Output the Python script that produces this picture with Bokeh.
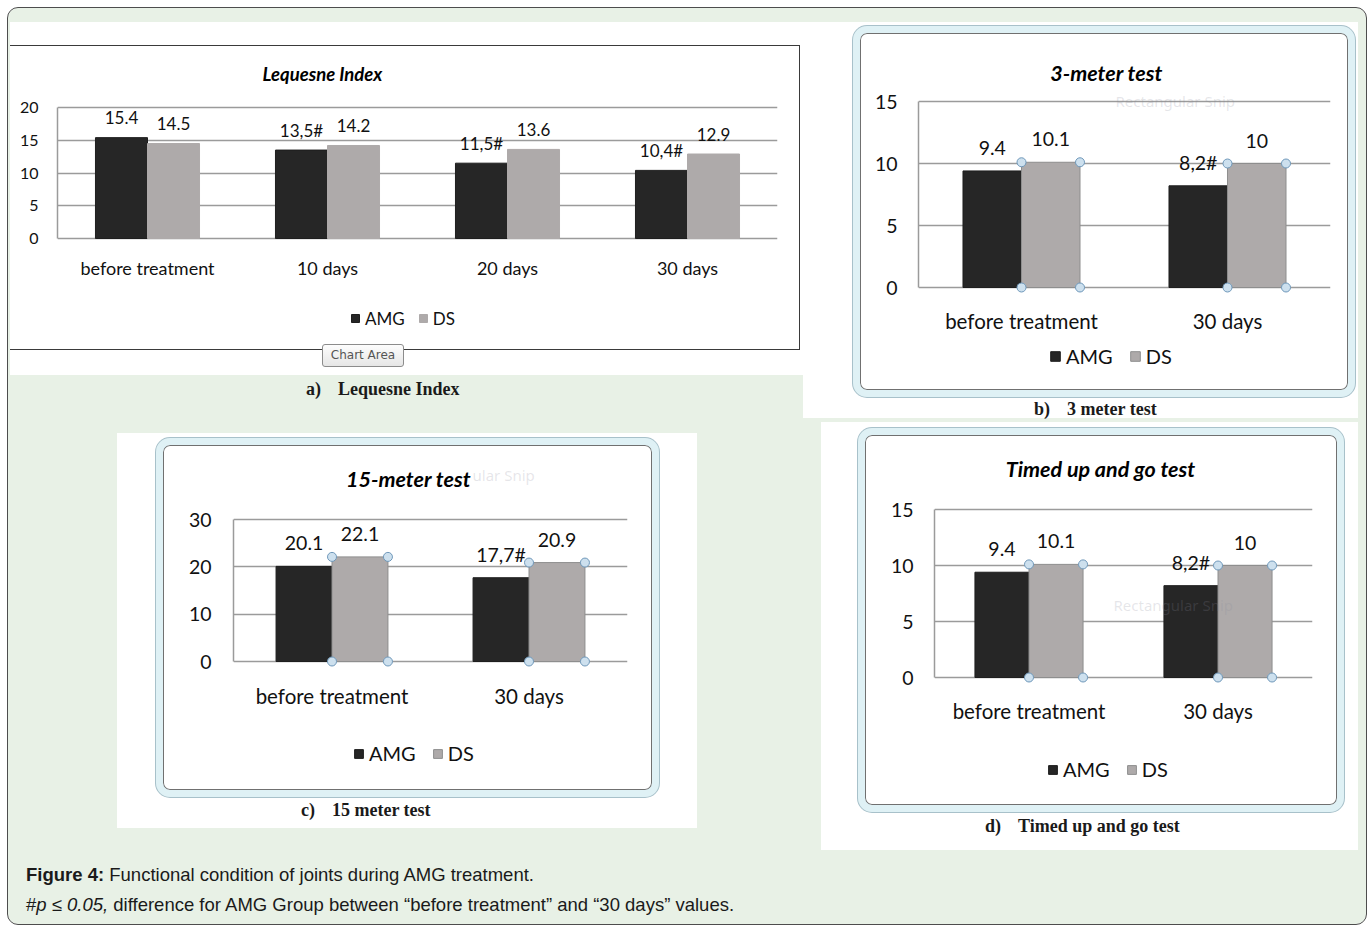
from bokeh.plotting import figure
from bokeh.models import (FactorRange, Range1d, FixedTicker, Label, Legend, LegendItem,
                          ColumnDataSource, Div)
from bokeh.layouts import column, row
from bokeh.transform import dodge
from bokeh.core.properties import value
from bokeh.embed import file_html
from bokeh.resources import INLINE

# ---------------- data ----------------
lq_categories = ["before treatment", "10 days", "20 days", "30 days"]
lq_amg = [15.4, 13.5, 11.5, 10.4]
lq_ds = [14.5, 14.2, 13.6, 12.9]
lq_amg_labels = ["15.4", "13,5#", "11,5#", "10,4#"]
lq_ds_labels = ["14.5", "14.2", "13.6", "12.9"]
lq_yticks = [0, 5, 10, 15, 20]

m3_categories = ["before treatment", "30 days"]
m3_amg = [9.4, 8.2]
m3_ds = [10.1, 10.0]
m3_amg_labels = ["9.4", "8,2#"]
m3_ds_labels = ["10.1", "10"]
m3_yticks = [0, 5, 10, 15]

m15_categories = ["before treatment", "30 days"]
m15_amg = [20.1, 17.7]
m15_ds = [22.1, 20.9]
m15_amg_labels = ["20.1", "17,7#"]
m15_ds_labels = ["22.1", "20.9"]
m15_yticks = [0, 10, 20, 30]

tug_categories = ["before treatment", "30 days"]
tug_amg = [9.4, 8.2]
tug_ds = [10.1, 10.0]
tug_amg_labels = ["9.4", "8,2#"]
tug_ds_labels = ["10.1", "10"]
tug_yticks = [0, 5, 10, 15]

series_names = ["AMG", "DS"]

# ---------------- style ----------------
GREEN = "#e8f1e6"
AMG_COLOR = "#262626"
DS_COLOR = "#aeaaaa"
GRID = "#9b9b9b"
FONT = "Lato"

FRAME_CSS = {
    "outline": "7px solid #dff1f5",
    "box-shadow": "0 0 0 8px #a8c1ca, inset 0 0 0 1px #707070",
    "border-radius": "7px",
    "background-color": "white",
}
AREA_CSS = {
    "background-color": "white",
    "box-shadow": "inset -1px 0 0 0 #3a3a3a, inset 0 1px 0 0 #3a3a3a, inset 0 -1px 0 0 #3a3a3a",
}


def make_chart(cats, amg, ds, amg_lbl, ds_lbl, yticks, g):
    """Plot frame spans the full height of the chart box so every text stays inside it."""
    ox, oy, W, H = g["ox"], g["oy"], g["W"], g["H"]
    L, R, T, Z = g["left"], g["right"], g["top"], g["zero"]
    ymax = yticks[-1]
    ppu = (Z - T) / ymax          # pixels per data unit
    fb = oy + H                   # frame bottom (page px)
    p = figure(width=W, height=H, x_range=FactorRange(factors=cats),
               y_range=Range1d(-(fb - Z) / ppu, ymax + (T - oy) / ppu),
               output_backend="svg", toolbar_location=None,
               min_border_left=L - ox, min_border_right=ox + W - R,
               min_border_top=0, min_border_bottom=0,
               styles=g["styles"])
    p.outline_line_color = None
    p.background_fill_alpha = 0
    p.border_fill_alpha = 0

    src = ColumnDataSource(dict(cat=cats, amg=amg, ds=ds, amg_lbl=amg_lbl,
                                ds_lbl=ds_lbl, zero=[0] * len(cats)))
    bw = g["bw"]
    r1 = p.vbar(x=dodge("cat", -bw / 2, range=p.x_range), top="amg", width=bw, source=src,
                fill_color=AMG_COLOR, line_color="#1e1e1e", line_width=1)
    r2 = p.vbar(x=dodge("cat", bw / 2, range=p.x_range), top="ds", width=bw, source=src,
                fill_color=DS_COLOR, line_color=g["ds_line"], line_width=1)

    for fld, lfld, off in (("amg", "amg_lbl", -bw / 2), ("ds", "ds_lbl", bw / 2)):
        p.text(x=dodge("cat", off, range=p.x_range), y=fld, text=lfld, source=src,
               text_align="center", text_baseline="middle", y_offset=-g["lbl_off"],
               text_font=value(FONT), text_font_size=f"{g['val_fs']}px", text_color="#111111")

    if g.get("handles"):
        for off in (0, bw):
            for yf in ("ds", "zero"):
                p.scatter(x=dodge("cat", off, range=p.x_range), y=yf, source=src,
                          marker="circle", size=9, fill_color="#cde0ee",
                          line_color="#6f98ba", line_width=1)

    # category labels under the groups (text through the categorical scale)
    p.text(x="cat", y=-(g["cat_cy"] - 2 - Z) / ppu, text="cat", source=src,
           text_align="center", text_baseline="middle", text_font=value(FONT),
           text_font_size=f"{g['cat_fs']}px", text_color="#111111")

    p.xaxis.visible = False
    p.yaxis.ticker = FixedTicker(ticks=yticks)
    p.yaxis.bounds = (0, ymax)
    p.yaxis.axis_line_color = GRID
    p.yaxis.axis_line_width = 1.5
    p.yaxis.major_tick_line_color = None
    p.yaxis.minor_tick_line_color = None
    p.yaxis.major_tick_out = 0
    p.yaxis.major_tick_in = 0
    p.yaxis.major_label_standoff = L - g["ylab_right"]
    p.yaxis.major_label_text_font = FONT
    p.yaxis.major_label_text_font_size = f"{g['ytick_fs']}px"
    p.yaxis.major_label_text_color = "#111111"
    p.ygrid.ticker = FixedTicker(ticks=yticks)
    p.ygrid.grid_line_color = GRID
    p.ygrid.grid_line_width = 1.5
    p.xgrid.grid_line_color = None

    for (tx, ty, txt) in g.get("ghost", []):
        p.add_layout(Label(x=tx - L, y=fb - ty, x_units="screen", y_units="screen", text=txt,
                           text_align="left", text_baseline="middle", text_font="Noto Sans",
                           text_font_size="15px", text_color="#8a8a9a", text_alpha=0.22))

    p.add_layout(Label(x=g["title_cx"] - L, y=fb - g["title_cy"], x_units="screen", y_units="screen",
                       text=g["title"], text_align="center", text_baseline="middle",
                       text_font=FONT, text_font_style="bold italic",
                       text_font_size=f"{g['title_fs']}px", text_color="#000000"))

    LH = int(round(1.3 * g["leg_fs"]))
    legend = Legend(items=[LegendItem(label=series_names[0], renderers=[r1]),
                           LegendItem(label=series_names[1], renderers=[r2])],
                    location=(g["leg_left"] - L, int(round(fb - g["leg_cy"] - LH / 2))),
                    orientation="horizontal", glyph_width=g["leg_sq"], glyph_height=g["leg_sq"],
                    label_height=LH, label_standoff=5, spacing=g["leg_sp"], padding=0, margin=0,
                    border_line_color=None, background_fill_alpha=0,
                    label_text_font=FONT, label_text_font_size=f"{g['leg_fs']}px",
                    label_text_color="#111111")
    p.add_layout(legend)
    return p


gA = dict(ox=10, oy=45, W=790, H=305, left=57, right=777, top=107, zero=238, bw=0.289,
          title="Lequesne Index", title_cx=322, title_cy=73, title_fs=18.5,
          ytick_fs=16, ylab_right=38, val_fs=17, lbl_off=20, cat_fs=18, cat_cy=269,
          leg_left=350, leg_cy=318, leg_sq=10, leg_sp=13, leg_fs=17, ds_line=DS_COLOR,
          handles=False, styles=AREA_CSS)
gB = dict(ox=860, oy=33, W=488, H=357, left=918, right=1330, top=101, zero=287, bw=0.284,
          title="3-meter test", title_cx=1106, title_cy=72, title_fs=21.5,
          ytick_fs=19.5, ylab_right=897, val_fs=19.5, lbl_off=23, cat_fs=20.5, cat_cy=322,
          leg_left=1049, leg_cy=356, leg_sq=12, leg_sp=16, leg_fs=20, ds_line="#8e8e8e",
          handles=True, styles=FRAME_CSS, ghost=[(1115, 100, "Rectangular Snip")])
gC = dict(ox=163, oy=445, W=489, H=345, left=233, right=627, top=519, zero=661, bw=0.284,
          title="15-meter test", title_cx=408, title_cy=478, title_fs=21.5,
          ytick_fs=19.5, ylab_right=211, val_fs=19.5, lbl_off=23, cat_fs=20.5, cat_cy=697,
          leg_left=353, leg_cy=753, leg_sq=11, leg_sp=16, leg_fs=20, ds_line="#8e8e8e",
          handles=True, styles=FRAME_CSS, ghost=[(472, 474, "ular Snip")])
gD = dict(ox=865, oy=435, W=472, H=370, left=934, right=1312, top=509, zero=677, bw=0.286,
          title="Timed up and go test", title_cx=1100, title_cy=468, title_fs=21.5,
          ytick_fs=19.5, ylab_right=913, val_fs=19.5, lbl_off=23, cat_fs=20.5, cat_cy=712,
          leg_left=1047, leg_cy=769, leg_sq=11, leg_sp=16, leg_fs=20, ds_line="#8e8e8e",
          handles=True, styles=FRAME_CSS, ghost=[(1113, 604, "Rectangular Snip")])

figA = make_chart(lq_categories, lq_amg, lq_ds, lq_amg_labels, lq_ds_labels, lq_yticks, gA)
figB = make_chart(m3_categories, m3_amg, m3_ds, m3_amg_labels, m3_ds_labels, m3_yticks, gB)
figC = make_chart(m15_categories, m15_amg, m15_ds, m15_amg_labels, m15_ds_labels, m15_yticks, gC)
figD = make_chart(tug_categories, tug_amg, tug_ds, tug_amg_labels, tug_ds_labels, tug_yticks, gD)

CAP = ("font-family:'Liberation Serif';font-weight:bold;font-size:18px;line-height:18px;"
       "color:#1a1a1a;white-space:nowrap;")


def caption(letter, txt, top, left):
    return Div(text=f"<div style=\"{CAP}\">{letter}<span style='display:inline-block;width:17px'></span>{txt}</div>",
               width=330, height=18, margin=(top, 0, 0, left))


figA.margin = (23, 0, 0, 0)
figB.margin = (11, 0, 0, 57)
figC.margin = (12, 0, 0, 46)
figD.margin = (13, 0, 0, 44)

tip = Div(text=("<div style=\"box-sizing:border-box;width:82px;height:23px;border:1px solid #8c8c8c;"
                "border-radius:3px;background:linear-gradient(#fdfdfd,#e6e6e6);font-family:'DejaVu Sans';"
                "font-size:12px;line-height:21px;color:#555;text-align:center;\">Chart Area</div>"),
          width=82, height=23, margin=(-6, 0, 0, 312))

whiteA = column(figA, tip, width=793, height=353, styles={"background-color": "white"})
panelA = column(whiteA, caption("a)", "Lequesne Index", 5, 296), margin=(0, 0, 0, 2))
panelB = column(figB, caption("b)", "3 meter test", 10, 231), width=555, height=396,
                styles={"background-color": "white"})
panelC = column(figC, caption("c)", "15 meter test", 11, 184), width=580, height=395,
                margin=(15, 0, 0, 109), styles={"background-color": "white"})
panelD = column(figD, caption("d)", "Timed up and go test", 12, 164), width=537, height=428,
                margin=(4, 0, 0, 124), styles={"background-color": "white"})

row1 = row(panelA, panelB, margin=(14, 0, 0, 0))
row2 = row(panelC, panelD)

footer = Div(text=("<div style=\"font-family:'Liberation Sans';font-size:18.5px;line-height:30px;"
                   "color:#1a1a1a;white-space:nowrap\"><b>Figure 4:</b> Functional condition of joints "
                   "during AMG treatment.<br>#<i>p ≤ 0.05,</i> difference for AMG Group between "
                   "“before treatment” and “30 days” values.</div>"),
             width=900, height=60, margin=(10, 0, 0, 18))

root = column(row1, row2, footer, width=1358, height=916, margin=(8, 0, 0, 8),
              styles={"background-color": GREEN, "outline": "1px solid #4d4d4d",
                      "border-radius": "10px"})

open("out.html", "w").write(file_html(root, INLINE))
